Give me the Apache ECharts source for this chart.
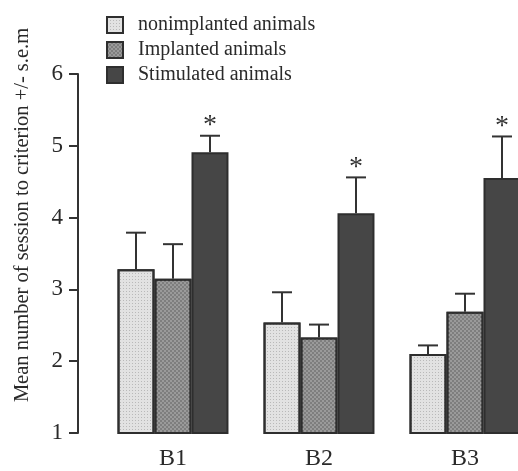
<!DOCTYPE html>
<html>
<head>
<meta charset="utf-8">
<script src="https://cdn.jsdelivr.net/npm/echarts@6/dist/echarts.min.js"></script>
<style>html,body{margin:0;padding:0;background:#fff;overflow:hidden;width:518px;height:471px;}#c{width:540px;height:471px;}</style>
</head>
<body>
<div id="c"></div>
<script>
var categories = ['B1', 'B2', 'B3'];
var seriesNames = ['nonimplanted animals', 'Implanted animals', 'Stimulated animals'];
var nonimplanted = [3.28, 2.54, 2.10];
var nonimplantedSem = [0.51, 0.42, 0.12];
var implanted = [3.15, 2.33, 2.69];
var implantedSem = [0.48, 0.18, 0.25];
var stimulated = [4.91, 4.06, 4.55];
var stimulatedSem = [0.23, 0.50, 0.58];
var significant = [true, true, true];
var yTicks = [1, 2, 3, 4, 5, 6];
var yTitle = 'Mean number of session to criterion +/- s.e.m';

var FONT = 'Liberation Serif';
var means = [nonimplanted, implanted, stimulated];
var sems = [nonimplantedSem, implantedSem, stimulatedSem];
var fills = ['#e2e2e2', '#7e7e7e', '#464646'];
var decals = [
  { symbol: 'rect', symbolSize: 1, dashArrayX: [1, 2], dashArrayY: [1, 2], color: 'rgba(0,0,0,0.18)' },
  { symbol: 'rect', symbolSize: 1, dashArrayX: [[2, 2], [0, 2, 2, 0]], dashArrayY: [2, 0], color: 'rgba(255,255,255,0.22)' },
  null
];
var GAP = 0.24;

var errData = [];
for (var s = 0; s < 3; s++) {
  for (var i = 0; i < categories.length; i++) {
    errData.push([i, means[s][i], sems[s][i], s, (s === 2 && significant[i]) ? 1 : 0]);
  }
}

var chart = echarts.init(document.getElementById('c'));
var barSeries = seriesNames.map(function (n, s) {
  var st = { color: fills[s], borderColor: '#2e2e2e', borderWidth: 2 };
  if (decals[s]) st.decal = decals[s];
  return {
    name: n, type: 'bar', data: means[s],
    barGap: '0%', barCategoryGap: (GAP * 100) + '%',
    itemStyle: st,
    emphasis: { disabled: true }
  };
});

chart.setOption({
  animation: false,
  backgroundColor: '#fff',
  textStyle: { fontFamily: FONT },
  legend: {
    orient: 'vertical', left: 101, top: 10, itemGap: 5,
    itemWidth: 16, itemHeight: 16,
    data: seriesNames.map(function (n) { return { name: n, icon: 'rect' }; }),
    textStyle: { fontFamily: FONT, fontSize: 20, color: '#2a2a2a', padding: [0, 0, 0, 10] }
  },
  graphic: [{
    type: 'text', x: 23, y: 215, rotation: Math.PI / 2,
    style: { text: yTitle, fontFamily: FONT, fontSize: 20.5, fill: '#2a2a2a', align: 'center', verticalAlign: 'middle' }
  }],
  grid: { left: 100, top: 74, width: 438, height: 359, containLabel: false },
  xAxis: {
    type: 'category', data: categories,
    axisLine: { show: false }, axisTick: { show: false },
    axisLabel: { fontFamily: FONT, fontSize: 24, color: '#2a2a2a', margin: 14 }
  },
  yAxis: {
    type: 'value', min: yTicks[0], max: yTicks[yTicks.length - 1], interval: 1, offset: 22,
    splitLine: { show: false },
    axisLine: { show: true, lineStyle: { color: '#333', width: 2 } },
    axisTick: { show: true, length: 9, lineStyle: { color: '#333', width: 2 } },
    axisLabel: { fontFamily: FONT, fontSize: 23, color: '#2a2a2a', margin: 15 }
  },
  series: barSeries.concat([{
    type: 'custom', data: errData, z: 5, silent: true,
    renderItem: function (params, api) {
      var ci = api.value(0), m = api.value(1), e = api.value(2), s = api.value(3), sig = api.value(4);
      var band = api.size([1, 0])[0];
      var bw = band * (1 - GAP) / 3;
      var cx = api.coord([ci, m])[0] + (s - 1) * bw;
      var yb = api.coord([ci, m])[1];
      var yt = api.coord([ci, m + e])[1];
      var st = { stroke: '#333', lineWidth: 2 };
      var children = [
        { type: 'line', shape: { x1: cx, y1: yb, x2: cx, y2: yt }, style: st },
        { type: 'line', shape: { x1: cx - 10, y1: yt, x2: cx + 10, y2: yt }, style: st }
      ];
      if (sig) {
        children.push({ type: 'text', x: cx, y: yt + 4,
          style: { text: '*', fontFamily: FONT, fontSize: 28, fill: '#333', align: 'center', verticalAlign: 'bottom' } });
      }
      return { type: 'group', children: children };
    }
  }])
});
</script>
</body>
</html>
